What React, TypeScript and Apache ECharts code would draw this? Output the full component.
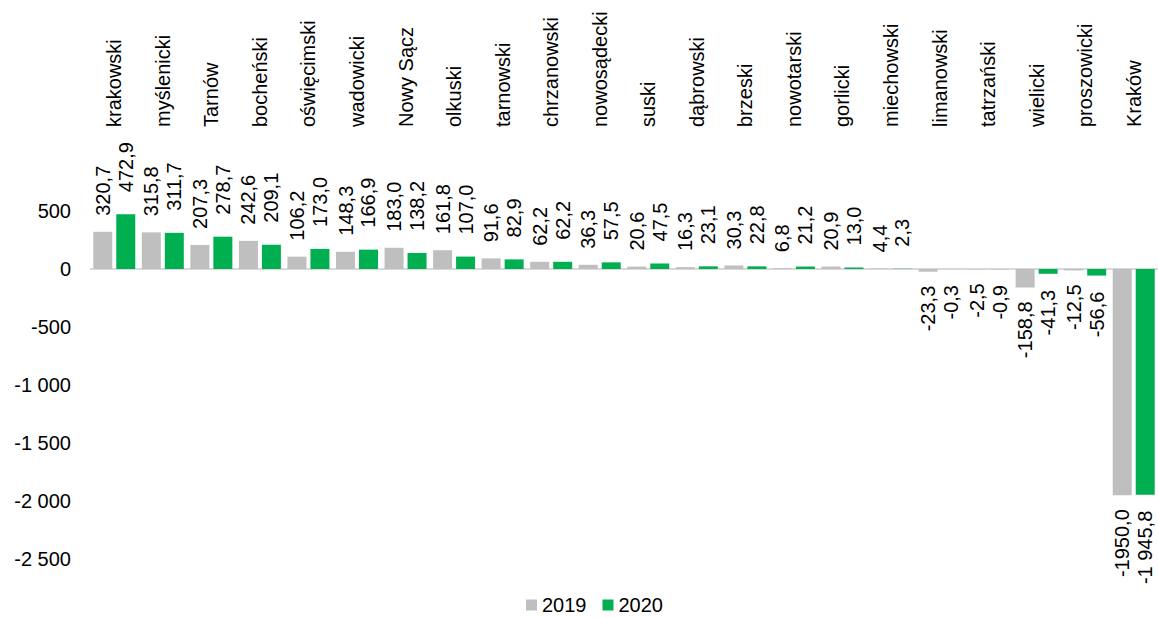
import React, { useEffect, useRef } from "react";
import * as echarts from "echarts";

const categories = [
  "krakowski", "myślenicki", "Tarnów", "bocheński", "oświęcimski", "wadowicki",
  "Nowy Sącz", "olkuski", "tarnowski", "chrzanowski", "nowosądecki", "suski",
  "dąbrowski", "brzeski", "nowotarski", "gorlicki", "miechowski", "limanowski",
  "tatrzański", "wielicki", "proszowicki", "Kraków",
];
const values2019 = [
  320.7, 315.8, 207.3, 242.6, 106.2, 148.3, 183.0, 161.8, 91.6, 62.2, 36.3, 20.6,
  16.3, 30.3, 6.8, 20.9, 4.4, -23.3, -2.5, -158.8, -12.5, -1950.0,
];
const values2020 = [
  472.9, 311.7, 278.7, 209.1, 173.0, 166.9, 138.2, 107.0, 82.9, 62.2, 57.5, 47.5,
  23.1, 22.8, 21.2, 13.0, 2.3, -0.3, -0.9, -41.3, -56.6, -1945.8,
];
const seriesNames = ["2019", "2020"];
const yTicks = [-2500, -2000, -1500, -1000, -500, 0, 500, 1000];

const FONT = "'Liberation Sans', Arial, sans-serif";

function fmtNum(v: number, sep: boolean): string {
  const neg = v < 0;
  const a = Math.abs(v).toFixed(1);
  let [i, d] = a.split(".");
  if (sep) i = i.replace(/\B(?=(\d{3})+(?!\d))/g, " ");
  return (neg ? "-" : "") + i + "," + d;
}

function fmtTick(v: number): string {
  const neg = v < 0;
  const s = String(Math.abs(v)).replace(/\B(?=(\d{3})+(?!\d))/g, " ");
  return (neg ? "-" : "") + s;
}

function makeData(vals: number[], sep: boolean, posDist: number, negDist: number) {
  return vals.map((v) => ({
    value: v,
    label: v >= 0
      ? { position: "top", align: "left", verticalAlign: "middle", distance: posDist, formatter: () => fmtNum(v, sep) }
      : { position: "bottom", align: "right", verticalAlign: "middle", distance: negDist, formatter: () => fmtNum(v, sep) },
  }));
}

export default function App() {
  const ref = useRef<HTMLDivElement>(null);
  useEffect(() => {
    if (!ref.current) return;
    const chart = echarts.init(ref.current, null, { renderer: "svg" });
    const labelBase = {
      show: true,
      rotate: 90,
      fontSize: 20,
      fontFamily: FONT,
      color: "#000",
    };
    chart.setOption({
      animation: false,
      backgroundColor: "#fff",
      textStyle: { fontFamily: FONT },
      grid: { left: 90, top: 153, width: 1071, height: 406, containLabel: false },
      legend: {
        data: seriesNames,
        left: 526,
        top: 595,
        padding: 0,
        itemWidth: 11,
        itemHeight: 11,
        itemGap: 16,
        icon: "rect",
        textStyle: { fontSize: 20, fontFamily: FONT, color: "#000", padding: [0, 0, 0, 0] },
      },
      xAxis: {
        type: "category",
        data: categories,
        position: "top",
        axisLine: { show: false, onZero: false },
        axisTick: { show: false },
        axisLabel: {
          rotate: -90,
          margin: 26,
          fontSize: 20,
          fontFamily: FONT,
          color: "#000",
          interval: 0,
        },
      },
      yAxis: {
        type: "value",
        min: -2500,
        max: 1000,
        interval: 500,
        splitLine: { show: false },
        axisLine: { show: false },
        axisTick: { show: false },
        axisLabel: {
          margin: 19,
          fontSize: 20,
          fontFamily: FONT,
          color: "#000",
          formatter: (v: number) => (yTicks.indexOf(v) >= 0 && v !== 1000 ? fmtTick(v) : ""),
        },
      },
      series: [
        {
          name: seriesNames[0],
          type: "bar",
          barWidth: 19,
          barGap: "21%",
          itemStyle: { color: "#BFBFBF" },
          label: labelBase,
          data: makeData(values2019, false, 16, 14),
          markLine: {
            silent: true,
            symbol: "none",
            label: { show: false },
            lineStyle: { color: "#D9D9D9", width: 2, type: "solid" },
            data: [{ yAxis: 0 }],
            z: 1,
          },
        },
        {
          name: seriesNames[1],
          type: "bar",
          barWidth: 19,
          barGap: "21%",
          itemStyle: { color: "#00B050" },
          label: labelBase,
          data: makeData(values2020, true, 22, 16),
        },
      ],
    });
    return () => chart.dispose();
  }, []);
  return (
    <div
      ref={ref}
      style={{ position: "fixed", left: 0, top: 0, width: 1158, height: 618, background: "#fff" }}
    />
  );
}
